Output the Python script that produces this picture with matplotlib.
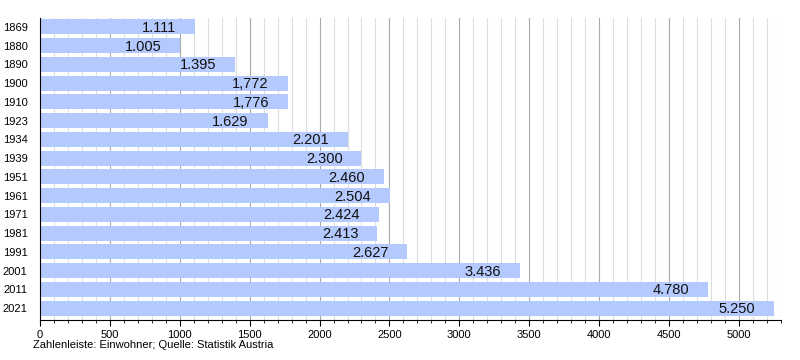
import numpy as np
import matplotlib.pyplot as plt
from matplotlib.ticker import MultipleLocator

plt.rcParams['font.family'] = ['Liberation Sans', 'DejaVu Sans']

years = ['1869', '1880', '1890', '1900', '1910', '1923', '1934', '1939',
         '1951', '1961', '1971', '1981', '1991', '2001', '2011', '2021']
population = [1111, 1005, 1395, 1772, 1776, 1629, 2201, 2300,
              2460, 2504, 2424, 2413, 2627, 3436, 4780, 5250]
labels = ['1.111', '1.005', '1.395', '1,772', '1,776', '1.629', '2.201', '2.300',
          '2.460', '2.504', '2.424', '2.413', '2.627', '3.436', '4.780', '5.250']

fig = plt.figure(figsize=(8, 3.6), dpi=100)
ax = fig.add_axes([0.05, 0.111, 0.926, 0.839])

pos = np.arange(len(years))
ax.barh(pos, population, height=0.8, color='#b4c9fd', zorder=2)

for p, v, lab in zip(pos, population, labels):
    ax.text(v - 135, p + 0.05, lab, ha='right', va='center', fontsize=10.5,
            color='#111111', zorder=3)

ax.set_xlim(0, 5300)
ax.set_ylim(15.64, -0.48)
ax.set_yticks(pos)
ax.set_yticklabels(years, fontsize=8)
ax.xaxis.set_major_locator(MultipleLocator(500))
ax.xaxis.set_minor_locator(MultipleLocator(100))
ax.tick_params(axis='x', labelsize=8, direction='out', length=4)
ax.tick_params(axis='x', which='minor', length=2.5)
ax.tick_params(axis='y', length=0, pad=9)

ax.grid(axis='x', which='major', color='#aaaaaa', linewidth=0.8, zorder=0)
ax.grid(axis='x', which='minor', color='#dddddd', linewidth=0.8, zorder=0)
ax.set_axisbelow(True)

ax.spines['top'].set_visible(False)
ax.spines['right'].set_visible(False)

fig.text(0.041, 0.028, 'Zahlenleiste: Einwohner; Quelle: Statistik Austria',
         fontsize=8, ha='left', va='bottom')

plt.savefig('out.png')
plt.close()
